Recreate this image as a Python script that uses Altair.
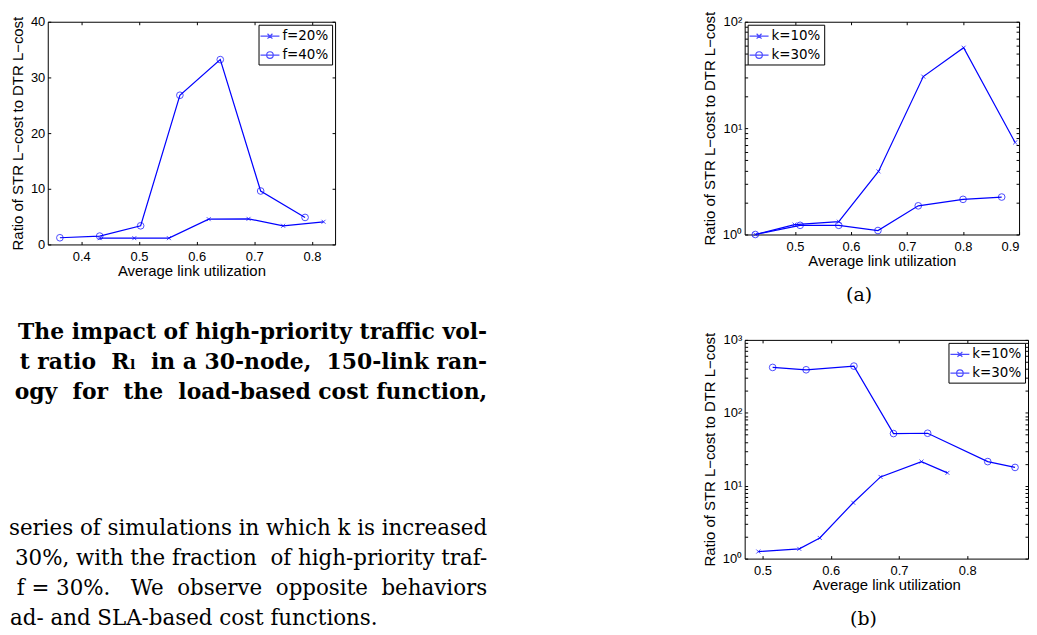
import altair as alt
import pandas as pd

BLUE = "#0000ff"
NB = "\u00a0"

# ---------------- data ----------------
# left panel (load-based cost function, varying f)
p1_series = ["f=20%", "f=40%"]
p1_x_f20 = [0.432, 0.492, 0.552, 0.621, 0.690, 0.750, 0.820]
p1_y_f20 = [1.13, 1.13, 1.13, 4.54, 4.60, 3.35, 4.07]
p1_x_f40 = [0.363, 0.432, 0.503, 0.571, 0.641, 0.711, 0.788]
p1_y_f40 = [1.20, 1.50, 3.35, 26.8, 33.2, 9.6, 4.85]

# panel (a)
k_series = ["k=10%", "k=30%"]
pa_x_k10 = [0.429, 0.499, 0.578, 0.649, 0.729, 0.801, 0.893]
pa_y_k10 = [1.00, 1.24, 1.32, 3.92, 30.5, 57.0, 7.33]
pa_x_k30 = [0.429, 0.509, 0.578, 0.648, 0.720, 0.800, 0.869]
pa_y_k30 = [1.00, 1.22, 1.22, 1.09, 1.86, 2.14, 2.25]

# panel (b)
pb_x_k10 = [0.494, 0.554, 0.584, 0.633, 0.673, 0.733, 0.771]
pb_y_k10 = [1.25, 1.36, 1.92, 5.84, 13.2, 21.4, 15.0]
pb_x_k30 = [0.515, 0.564, 0.634, 0.692, 0.742, 0.830, 0.870]
pb_y_k30 = [419, 389, 437, 51.9, 52.4, 21.4, 17.8]

# tick labels
p1_xticks = [0.4, 0.5, 0.6, 0.7, 0.8]
p1_yticks = [0, 10, 20, 30, 40]
pa_xticks = [0.5, 0.6, 0.7, 0.8, 0.9]
pb_xticks = [0.5, 0.6, 0.7, 0.8]
pa_ymajor = [1, 10, 100]
pb_ymajor = [1, 10, 100, 1000]
pa_yminor = [1, 2, 3, 4, 5, 6, 7, 8, 9, 10, 20, 30, 40, 50, 60, 70, 80, 90, 100]
pb_yminor = pa_yminor + [200, 300, 400, 500, 600, 700, 800, 900, 1000]

XTITLE = "Average link utilization"
YTITLE = "Ratio of STR L\u2212cost to DTR L\u2212cost"

# caption text on the left (justified look: a few extra non-breaking spaces)
cap_text = [
    "The impact of high-priority traffic vol-",
    "t ratio" + NB + " R\u2097" + NB + " in a 30-node," + NB + " 150-link ran-",
    "ogy" + NB + " for" + NB + " the" + NB + " load-based cost function,",
]
cap_line = [0, 1, 2]
body_text = [
    "series of simulations in which k is increased",
    "30%, with the fraction" + NB + " of high-priority traf-",
    ("f = 30%." + NB + NB + " We" + NB + " observe" + NB + " opposite" + NB
     + " behaviors"),
]
body_line = [6.55, 7.55, 8.55]
last_text = ["ad- and SLA-based cost functions."]
last_line = [9.55]

# ---------------- helpers ----------------
X_PATH = "M-1,-1L1,1M-1,1L1,-1"
LEG_X = "M-1.27,0H1.27M-0.33,-0.33L0.33,0.33M-0.33,0.33L0.33,-0.33"
LEG_O = ("M-1.27,0H1.27M-0.44,0A0.44,0.44 0 1,0 0.44,0"
         "A0.44,0.44 0 1,0 -0.44,0")
LOG_EXPR = "'10' + ['\u2070','\u00b9','\u00b2','\u00b3'][round(log(datum.value)/LN10)]"


def tick_axis(orient, offset, values):
    return alt.Axis(orient=orient, offset=offset, values=values, labels=False,
                    domain=False, title=None, tickSize=3, tickColor="black",
                    tickWidth=1, grid=False)


def panel(xs, ys, names, xdom, ydom, ylog, W, H, xticks, ymajor, yall,
          legend_orient, title=None):
    rows = []
    for xv, yv, nm in zip(xs, ys, names):
        for a, b in zip(xv, yv):
            rows.append({"x": a, "y": b, "series": nm})
    df = pd.DataFrame(rows)
    xscale = alt.Scale(domain=xdom, nice=False, zero=False)
    if ylog:
        yscale = alt.Scale(type="log", domain=ydom, nice=False)
        yaxis = alt.Axis(orient="left", values=ymajor, ticks=False, domain=False,
                         labelPadding=3, title=YTITLE, titlePadding=5,
                         labelExpr=LOG_EXPR)
    else:
        yscale = alt.Scale(domain=ydom, nice=False, zero=False)
        yaxis = alt.Axis(orient="left", values=ymajor, ticks=False, domain=False,
                         labelPadding=3, title=YTITLE, titlePadding=5)
    xaxis = alt.Axis(orient="bottom", values=xticks, format=".1f", ticks=False,
                     domain=False, labelPadding=6, title=XTITLE, titlePadding=0)
    base = alt.Chart(df)
    line = base.mark_line(color=BLUE, strokeWidth=1.2).encode(
        x=alt.X("x:Q", scale=xscale, axis=xaxis),
        y=alt.Y("y:Q", scale=yscale, axis=yaxis),
        detail="series:N",
    )
    pts_x = base.transform_filter(alt.datum.series == names[0]).mark_point(
        shape=X_PATH, size=16, color=BLUE, strokeWidth=1, filled=False
    ).encode(
        x=alt.X("x:Q", scale=xscale, axis=tick_axis("top", -H, xticks)),
        y=alt.Y("y:Q", scale=yscale, axis=tick_axis("right", -W, yall)),
    )
    pts_o = base.transform_filter(alt.datum.series == names[1]).mark_point(
        shape="circle", size=45, color=BLUE, strokeWidth=1, filled=False
    ).encode(
        x=alt.X("x:Q", scale=xscale, axis=tick_axis("bottom", -H, xticks)),
        y=alt.Y("y:Q", scale=yscale, axis=tick_axis("left", -W, yall)),
    )
    leg = base.transform_filter("false").mark_point(
        color=BLUE, filled=False, strokeWidth=1.2
    ).encode(
        shape=alt.Shape(
            "series:N",
            scale=alt.Scale(domain=names, range=[LEG_X, LEG_O]),
            legend=alt.Legend(
                title=None, orient=legend_orient, offset=3,
                strokeColor="black", fillColor="white", padding=3,
                symbolSize=225, symbolStrokeWidth=1.2,
                symbolStrokeColor=BLUE, symbolFillColor="transparent",
                labelFont="DejaVu Sans", labelFontSize=13.5,
                labelColor="black", labelOffset=4, rowPadding=4,
            ),
        )
    )
    ch = alt.layer(line, pts_x, pts_o, leg).resolve_axis(
        x="independent", y="independent"
    )
    props = dict(width=W, height=H)
    if title is not None:
        props["title"] = alt.TitleParams(
            text=title, orient="bottom", anchor="middle", font="DejaVu Serif",
            fontSize=19, fontWeight="normal", color="black", offset=18, dx=-23,
        )
    return ch.properties(**props)


# ---------------- panels ----------------
chart1 = panel([p1_x_f20, p1_x_f40], [p1_y_f20, p1_y_f40], p1_series,
               [0.342, 0.84], [0, 40], False, 289, 224,
               p1_xticks, p1_yticks, p1_yticks, "top-right")

chartA = panel([pa_x_k10, pa_x_k30], [pa_y_k10, pa_y_k30], k_series,
               [0.41, 0.9], [1, 100], True, 276, 214,
               pa_xticks, pa_ymajor, pa_yminor, "top-left", "(a)")

chartB = panel([pb_x_k10, pb_x_k30], [pb_y_k10, pb_y_k30], k_series,
               [0.474, 0.889], [1, 1000], True, 285, 220,
               pb_xticks, pb_ymajor, pb_yminor, "top-right", "(b)")

# ---------------- caption text ----------------
CW = 442
CH = 279
ly = alt.Y("line:Q", scale=alt.Scale(domain=[0, 9.5], range=[-8, CH], nice=False,
                                     zero=False), axis=None)
cap_layer = alt.Chart(pd.DataFrame({"text": cap_text, "line": cap_line})).mark_text(
    align="right", baseline="middle", font="DejaVu Serif", fontSize=22,
    fontWeight="bold", color="black"
).encode(x=alt.value(CW), y=ly, text="text:N")
body_layer = alt.Chart(pd.DataFrame({"text": body_text, "line": body_line})).mark_text(
    align="right", baseline="middle", font="DejaVu Serif", fontSize=21.5,
    color="black"
).encode(x=alt.value(CW), y=ly, text="text:N")
last_layer = alt.Chart(pd.DataFrame({"text": last_text, "line": last_line})).mark_text(
    align="left", baseline="middle", font="DejaVu Serif", fontSize=21.5,
    color="black"
).encode(x=alt.value(-38), y=ly, text="text:N")
caption = alt.layer(cap_layer, body_layer, last_layer).properties(
    width=CW, height=CH, view=alt.ViewBackground(stroke="transparent")
)

chart = alt.concat(
    chart1, chartA, caption, chartB, columns=2,
    spacing={"row": 96, "column": 259}, bounds="flush",
).resolve_scale(shape="independent").properties(
    padding={"left": 0, "top": 0, "right": 0, "bottom": 0},
    background="white",
).configure_axis(
    labelFont="Liberation Sans", labelFontSize=13, labelColor="black",
    titleFont="Liberation Sans", titleFontSize=15, titleFontWeight="normal",
    titleColor="black", grid=False,
).configure_view(stroke="black", strokeWidth=1)

chart.save("out.html", embed_options={"renderer": "svg", "actions": False})
